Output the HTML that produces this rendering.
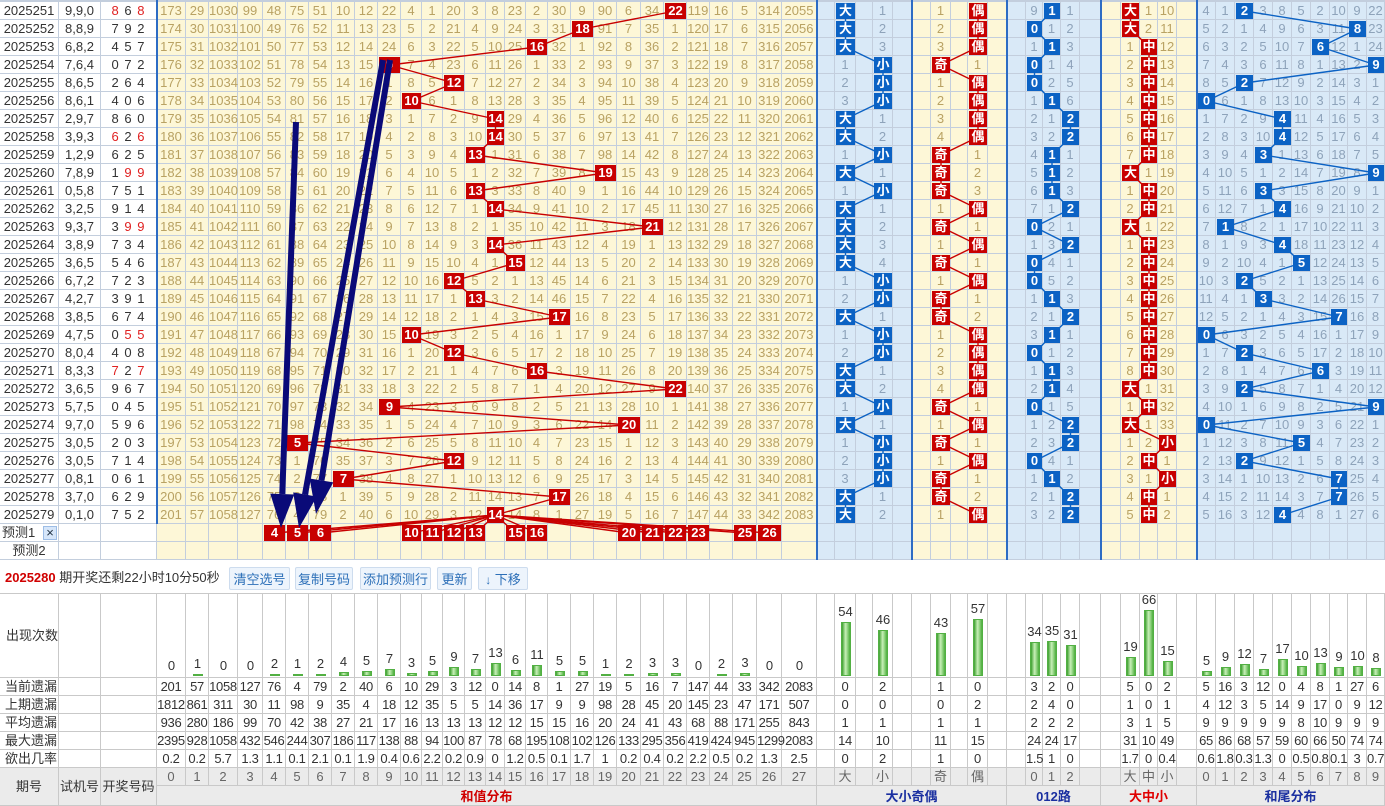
<!DOCTYPE html>
<html><head><meta charset="utf-8">
<style>
body{margin:0;background:#fff;}
#c{position:relative;width:1385px;height:806px;overflow:hidden;font-family:"Liberation Sans","Noto Sans CJK SC",sans-serif;font-size:13px;color:#333;background:#fff;}
#c div{position:absolute;box-sizing:border-box;text-align:center;white-space:nowrap;}
.btn{border:1px solid #cddcee;background:#edf4fc;color:#2c6fb8;border-radius:2px;}
</style></head><body>
<div id="c"></div>
<script>
const C=document.getElementById('c');
function d(x,y,w,h,t,st){const e=document.createElement('div');e.style.cssText=`left:${x}px;top:${y}px;width:${w}px;height:${h}px;line-height:${h}px;${st||''}`;if(t!==undefined&&t!==null)e.innerHTML=t;C.appendChild(e);return e;}
const GL='#c3cedd';
const YB='#fdf7d7',YT='#b9a263',BB='#d9e9f7',BT='#8ea3ba';
const R=[["2025251","9,9,0","868"],["2025252","8,8,9","792"],["2025253","6,8,2","457"],["2025254","7,6,4","072"],["2025255","8,6,5","264"],["2025256","8,6,1","406"],["2025257","2,9,7","860"],["2025258","3,9,3","626"],["2025259","1,2,9","625"],["2025260","7,8,9","199"],["2025261","0,5,8","751"],["2025262","3,2,5","914"],["2025263","9,3,7","399"],["2025264","3,8,9","734"],["2025265","3,6,5","546"],["2025266","6,7,2","723"],["2025267","4,2,7","391"],["2025268","3,8,5","674"],["2025269","4,7,5","055"],["2025270","8,0,4","408"],["2025271","8,3,3","727"],["2025272","3,6,5","967"],["2025273","5,7,5","045"],["2025274","9,7,0","596"],["2025275","3,0,5","203"],["2025276","3,0,5","714"],["2025277","0,8,1","061"],["2025278","3,7,0","629"],["2025279","0,1,0","752"]];
const sums=R.map(r=>r[2].split('').reduce((a,b)=>a+ +b,0));
const S=[157,186,209,238,263,286,309,332,355,378,401,422,443,465,486,505,526,548,571,594,617,641,664,687,710,733,757,782,817];
const H=[1197,1216,1235,1254,1273,1292,1311,1330,1348,1367,1385];
const init=[173,29,1030,99,48,75,51,10,12,22,4,1,20,3,8,23,2,30,9,90,6,34,22,119,16,5,314,2055];
const groups=[
 {e:S,cc:[...Array(28).keys()],cat:s=>s,lab:c=>String(c),prior:init.map(v=>v-1),bg:YB,tc:YT,box:'#c80000',ln:'#c80000'},
 {e:[817,835,856,873,893,912],cc:[1,3],cat:s=>s>=14?0:1,lab:c=>['大','小'][c],prior:[0,0],bg:BB,tc:BT,box:'#0b62c4',ln:'#0b62c4'},
 {e:[912,931,951,968,988,1007],cc:[1,3],cat:s=>s%2?0:1,lab:c=>['奇','偶'][c],prior:[0,0],bg:YB,tc:YT,box:'#c80000',ln:'#c80000'},
 {e:[1007,1026,1043,1061,1080,1101],cc:[1,2,3],cat:s=>s%3,lab:c=>String(c),prior:[8,0,0],bg:BB,tc:BT,box:'#0b62c4',ln:'#0b62c4'},
 {e:[1101,1121,1140,1158,1177,1197],cc:[1,2,3],cat:s=>s>=18?0:(s>=8?1:2),lab:c=>['大','中','小'][c],prior:[0,0,9],bg:YB,tc:YT,box:'#c80000',ln:'#c80000'},
 {e:H,cc:[...Array(10).keys()],cat:s=>s%10,lab:c=>String(c),prior:[3,0,0,2,7,4,1,9,8,21],bg:BB,tc:BT,box:'#0b62c4',ln:'#0b62c4'}
];
const RH=18,T0=2;
const cb=`border-right:1px solid ${GL};border-bottom:1px solid ${GL};`;
d(0,0,1385,2,'',`background:${GL}`);
const lines=[];const boxes=[];
R.forEach((r,i)=>{
 const y=T0+i*RH;
 d(0,y,59,RH,r[0],cb+'background:#fff;color:#333');
 d(59,y,42,RH,r[1],cb+'background:#fff;color:#333');
 const dg=r[2].split('');
 const html=dg.map(ch=>{const rep=dg.filter(x=>x==ch).length>1;return `<span style="color:${rep?'#e02020':'#333'}">${ch}</span>`}).join(' ');
 d(101,y,56,RH,html,cb+'background:#fff;letter-spacing:1px');
});
groups.forEach(g=>{
 const om=g.prior.slice();let prev=null;
 R.forEach((r,i)=>{
  const y=T0+i*RH;const hit=g.cat(sums[i]);
  for(let k=0;k<om.length;k++)om[k]++;om[hit]=0;
  for(let j=0;j<g.e.length-1;j++){
   const x1=g.e[j],w=g.e[j+1]-x1;const ci=g.cc.indexOf(j);
   let t='';if(ci>=0&&ci!==hit)t=om[ci];
   d(x1,y,w,RH,t,cb+`background:${g.bg};color:${g.tc}`);
   if(ci===hit){boxes.push([x1+1,y+1,w-2,RH-2,g.lab(hit),g.box]);
    const cx=x1+w/2,cy=y+RH/2;if(prev)lines.push([prev[0],prev[1],cx,cy,g.ln]);prev=[cx,cy];}
  }
 });
 [524,542].forEach(y=>{
  for(let j=0;j<g.e.length-1;j++){const x1=g.e[j],w=g.e[j+1]-x1;d(x1,y,w,RH,'',cb+`background:${g.bg}`);}
 });
 g.last=prev;
});
d(0,524,59,RH,'<span style="position:absolute;left:2px;top:0">预测1</span>',cb+'background:#fff');
d(43,526,14,14,'×','background:#d6e6fa;border:1px solid #9dbde6;line-height:12px;color:#234;font-size:13px');
d(59,524,42,RH,'',cb+'background:#fff');d(101,524,56,RH,'',cb+'background:#fff');
d(0,542,59,RH,'预测2',cb+'background:#fff');d(59,542,42,RH,'',cb+'background:#fff');d(101,542,56,RH,'',cb+'background:#fff');
[4,5,6,10,11,12,13,15,16,20,21,22,23,25,26].forEach(c=>{const x1=S[c],w=S[c+1]-x1;boxes.push([x1+1,525,w-2,16,String(c),'#c80000']);lines.push([groups[0].last[0],groups[0].last[1],x1+w/2,533,'#c80000']);});
d(156,0,2,524,'','background:#2d6cc4');
[816,911,1006,1100,1196].forEach(x=>d(x,0,2,560,'','background:#2d6cc4'));
let sv=`<svg width="1385" height="806" style="position:absolute;left:0;top:0;z-index:2;pointer-events:none">`;
lines.forEach(l=>{sv+=`<line x1="${l[0]}" y1="${l[1]}" x2="${l[2]}" y2="${l[3]}" stroke="${l[4]}" stroke-width="1.4"/>`;});
sv+='</svg>';
const sd=document.createElement('div');sd.style.cssText='left:0;top:0;width:1385px;height:806px;z-index:2';sd.innerHTML=sv;C.appendChild(sd);
boxes.forEach(b=>d(b[0],b[1],b[2],b[3],b[4],`background:${b[5]};color:#fff;font-weight:bold;z-index:3`));
function arrow(x1,y1,x2,y2){const L=Math.hypot(x2-x1,y2-y1),ux=(x2-x1)/L,uy=(y2-y1)/L,px=-uy,py=ux,hl=34,hw=12;const bx=x2-ux*hl,by=y2-uy*hl;
 return `<line x1="${x1}" y1="${y1}" x2="${bx}" y2="${by}" stroke="#0a0a78" stroke-width="6"/><polygon points="${x2},${y2} ${bx+px*hw},${by+py*hw} ${bx-px*hw},${by-py*hw}" fill="#0a0a78"/>`;}
const ad=document.createElement('div');ad.style.cssText='left:0;top:0;width:1385px;height:806px;z-index:4';
ad.innerHTML=`<svg width="1385" height="806" style="position:absolute;left:0;top:0">${arrow(296,122,281,528)}${arrow(383,60,299,528)}${arrow(390,60,316,514)}</svg>`;C.appendChild(ad);
d(5,568,225,20,'<b style="color:#d00000">2025280</b> 期开奖还剩22小时10分50秒','text-align:left');
[[229,61,'清空选号'],[295,58,'复制号码'],[360,71,'添加预测行'],[437,35,'更新'],[478,50,'<span style="font-size:12px">↓</span> 下移']].forEach(b=>{const e=d(b[0],567,b[1],23,b[2],'');e.className='btn';});
const BG='#c9c9c9';const bb=`border-right:1px solid ${BG};border-bottom:1px solid ${BG};`;
d(0,593,1385,1,'',`background:${BG}`);
const gstats=[
 {occ:[0,1,0,0,2,1,2,4,5,7,3,5,9,7,13,6,11,5,5,1,2,3,3,0,2,3,0,0],
  r:[[201,57,1058,127,76,4,79,2,40,6,10,29,3,12,0,14,8,1,27,19,5,16,7,147,44,33,342,2083],
  [1812,861,311,30,11,98,9,35,4,18,12,35,5,5,14,36,17,9,9,98,28,45,20,145,23,47,171,507],
  [936,280,186,99,70,42,38,27,21,17,16,13,13,13,12,12,15,15,16,20,24,41,43,68,88,171,255,843],
  [2395,928,1058,432,546,244,307,186,117,138,88,94,100,87,78,68,195,108,102,126,133,295,356,419,424,945,1299,2083],
  [0.2,0.2,5.7,1.3,1.1,0.1,2.1,0.1,1.9,0.4,0.6,2.2,0.2,0.9,0,1.2,0.5,0.1,1.7,1,0.2,0.4,0.2,2.2,0.5,0.2,1.3,2.5]]},
 {occ:[54,46],r:[[0,2],[0,0],[1,1],[14,10],[0,2]]},
 {occ:[43,57],r:[[1,0],[0,2],[1,1],[11,15],[1,0]]},
 {occ:[34,35,31],r:[[3,2,0],[2,4,0],[2,2,2],[24,24,17],[1.5,1,0]]},
 {occ:[19,66,15],r:[[5,0,2],[1,0,1],[3,1,5],[31,10,49],[1.7,0,0.4]]},
 {occ:[5,9,12,7,17,10,13,9,10,8],r:[[5,16,3,12,0,4,8,1,27,6],[4,12,3,5,14,9,17,0,9,12],[9,9,9,9,9,8,10,9,9,9],[65,86,68,57,59,60,66,50,74,74],[0.6,1.8,0.3,1.3,0,0.5,0.8,0.1,3,0.7]]}];
const labels=['当前遗漏','上期遗漏','平均遗漏','最大遗漏','欲出几率'];
d(0,594,59,84,'<span style="position:absolute;left:6px;top:0">出现次数</span>',bb);d(59,594,42,84,'',bb);d(101,594,56,84,'',bb);
labels.forEach((l,k)=>{const y=678+k*18;d(0,y,59,18,'<span style="position:absolute;left:5px;top:0">'+l+'</span>',bb);d(59,y,42,18,'',bb);d(101,y,56,18,'',bb);});
d(0,768,59,38,'期号',bb+'background:#ebebeb;line-height:38px');
d(59,768,42,38,'试机号',bb+'background:#ebebeb;line-height:38px');
d(101,768,56,38,'开奖号码',bb+'background:#ebebeb;line-height:38px');
groups.forEach((g,gi)=>{
 const s=gstats[gi];
 for(let j=0;j<g.e.length-1;j++){
  const x1=g.e[j],w=g.e[j+1]-x1;const ci=g.cc.indexOf(j);
  d(x1,594,w,84,'',bb);
  if(ci>=0){const v=s.occ[ci];const bh=v>0?Math.max(v,2):0;
   if(bh>0){d(x1+w/2-5,676-bh,10,bh,'','background:linear-gradient(to right,#3d9f2e,#c8f0b8 45%,#4cae3c);border:1px solid #52b043');}
   d(x1-4,676-bh-19,w+8,18,String(v),'line-height:18px;color:#333');}
  for(let k=0;k<5;k++){d(x1,678+k*18,w,18,ci>=0?String(s.r[k][ci]):'',bb+'letter-spacing:-0.3px');}
  d(x1,768,w,18,ci>=0?g.lab(ci):'',bb+'background:#ebebeb;color:#666');
 }
});
[[157,817,'和值分布','#d00000'],[817,1007,'大小奇偶','#1a2fa0'],[1007,1101,'012路','#1a2fa0'],[1101,1197,'大中小','#e00000'],[1197,1385,'和尾分布','#1a2fa0']].forEach(l=>{
 d(l[0],786,l[1]-l[0],20,l[2],bb+`background:#ebebeb;color:${l[3]};font-weight:bold;line-height:22px`);
});
</script>
</body></html>
